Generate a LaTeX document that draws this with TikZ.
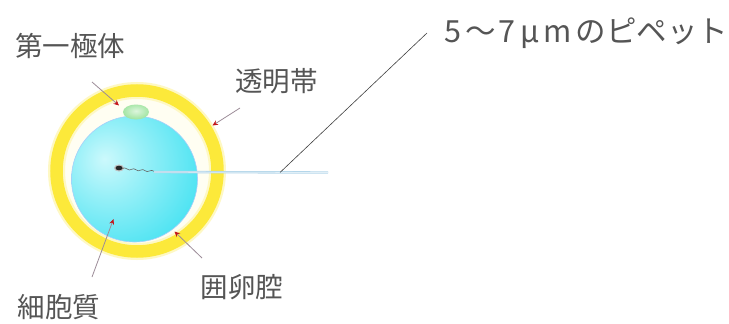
\documentclass[tikz,border=0pt]{standalone}
\usepackage{fontspec}
\setmainfont{Noto Sans CJK JP}
\usetikzlibrary{arrows.meta,decorations.pathmorphing,shapes.geometric}
\definecolor{zonayellow}{HTML}{FCE93A}
\definecolor{cellcyan}{HTML}{34DFF0}
\definecolor{celllight}{HTML}{CCF9FC}
\definecolor{polargreen}{HTML}{8EDF8E}
\definecolor{labelgray}{HTML}{555555}
\definecolor{leadercol}{HTML}{9C8C98}
\definecolor{tipred}{HTML}{C4161C}
\definecolor{pipetteblue}{HTML}{B4D6EA}
\pgfdeclareradialshading{cellshade}{\pgfpoint{-12bp}{8bp}}{%
  color(0bp)=(celllight); color(14bp)=(celllight!65!cellcyan);
  color(42bp)=(cellcyan); color(100bp)=(cellcyan)}
\pgfdeclareradialshading{polarshade}{\pgfpoint{0bp}{4bp}}{%
  color(0bp)=(white!70!polargreen); color(35bp)=(polargreen);
  color(100bp)=(polargreen)}
\tikzset{
  lbl/.style={text=labelgray, font=\fontsize{27.5}{28}\selectfont, inner sep=0pt},
  pointer/.style={draw=leadercol, line width=0.8pt,
    -{Stealth[length=5.5pt,width=5pt,color=tipred]}},
  leader/.style={draw=black!75, line width=0.6pt},
}
\begin{document}
\begin{tikzpicture}[x=1pt,y=-1pt]
\useasboundingbox[fill=white] (0,0) rectangle (729,324);

% perivitelline space and zona pellucida
\fill[yellow!5] (137,171) circle[radius=74];
\draw[zonayellow!30, line width=17pt] (137,171) circle[radius=80.5];
\draw[zonayellow, line width=12.5pt] (137,171) circle[radius=80.5];
\node[circle, minimum size=174pt, inner sep=0pt] (zona) at (137,171) {};

% ooplasm
\shade[shading=cellshade, draw=cellcyan!60!blue!40!white, line width=0.6pt]
  (134.5,179) circle[radius=63];
\node[circle, minimum size=126pt, inner sep=0pt] (ooplasm) at (134.5,179) {};

% first polar body
\shade[shading=polarshade] (136,112) ellipse[x radius=13, y radius=7.5];
\node[ellipse, minimum width=26pt, minimum height=15pt, inner sep=0pt] (polar) at (136,112) {};

% sperm head and tail, pipette
\fill[black!25] (119,168) ellipse[x radius=5, y radius=3.5];
\fill[black!85] (119,168) ellipse[x radius=3.5, y radius=2.3];
\coordinate (head) at (122,168.5);
\coordinate (tailend) at (155,171.5);
\draw[black!60, line width=0.6pt, decorate,
  decoration={snake, amplitude=0.8pt, segment length=9pt}] (head) -- (tailend);
\coordinate (pipin) at (154,172);
\coordinate (pipout) at (328,172.5);
\draw[pipetteblue, line width=2.4pt] (pipin) -- (pipout);
\draw[white!60!pipetteblue, line width=0.8pt] (pipin) -- (pipout);

% labels
\node[lbl] (polarlbl) at (70.5,45.5) {第一極体};
\node[lbl] (zonalbl) at (276.5,81) {透明帯};
\node[lbl] (pvslbl) at (242,287.5) {囲卵腔};
\node[lbl] (ooplbl) at (59,307) {細胞質};
\node[lbl, font=\fontsize{30.5}{31}\selectfont, anchor=west] (piplbl) at (444,33)
  {5\kern4pt〜\kern3pt7\kern5pt μ\kern4pt m\kern4pt のピペット};

% pointers
\coordinate (p1) at (92,82);   \coordinate (q1) at (119,105.5);
\coordinate (p2) at (240,108); \coordinate (q2) at (212.5,125.5);
\coordinate (p3) at (202,258); \coordinate (q3) at (174.5,231.5);
\coordinate (p4) at (92,277);  \coordinate (q4) at (113.5,219);
\draw[pointer] (p1) -- (q1);
\draw[pointer] (p2) -- (q2);
\draw[pointer] (p3) -- (q3);
\draw[pointer] (p4) -- (q4);

% pipette leader
\coordinate (lstart) at (280,172.5);
\coordinate (lend) at (427,33);
\draw[leader] (lstart) -- (lend);
\end{tikzpicture}
\end{document}
